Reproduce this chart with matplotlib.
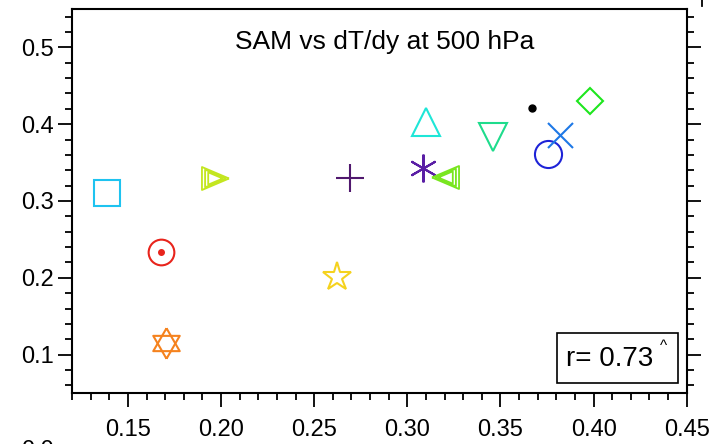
import matplotlib
matplotlib.use("Agg")
import matplotlib.pyplot as plt
from matplotlib.ticker import MultipleLocator, FormatStrFormatter
from matplotlib.patches import Rectangle
from matplotlib.lines import Line2D

plt.rcParams['font.family'] = ['Liberation Sans', 'DejaVu Sans']

# one point per model: dT/dy trend (x) vs SAM trend (y)
dtdy = [0.139, 0.1676, 0.1706, 0.1966, 0.2695, 0.2625, 0.3098, 0.3085,
        0.3201, 0.3461, 0.367, 0.3756, 0.3819, 0.398]
sam = [0.311, 0.234, 0.1156, 0.330, 0.330, 0.2013, 0.403, 0.3434,
       0.3312, 0.383, 0.4213, 0.3607, 0.3862, 0.4308]
colors = ['#1ec3f0', '#e8241c', '#f5821e', '#c3e61e', '#50186e', '#f5d21e',
          '#1ee6d7', '#5a1ea5', '#78e61e', '#1edc8c', '#000000', '#1e23d7',
          '#1e78e6', '#1ee61e']
r_value = 0.73

# marker shapes (custom vertices where matplotlib has nothing close)
hex_up = [(0, 1), (-0.866, -0.5), (0.866, -0.5), (0, 1)]
hex_dn = [(0, -1), (-0.866, 0.5), (0.866, 0.5), (0, -1)]
tri_rt = [(1, 0), (-1, 0.85), (-1, -0.85), (1, 0)]
tri_lt = [(-1, 0), (1, 0.85), (1, -0.85), (-1, 0)]

fig = plt.figure(figsize=(7.28, 4.44), dpi=100)
ax = fig.add_axes([0.0989, 0.1149, 0.8444, 0.8648])

lw = 1.5
kw = dict(ls='none', mfc='none', mew=lw)

def mk(i, marker, size, **extra):
    opts = dict(kw)
    opts.update(extra)
    ax.plot(dtdy[i], sam[i], marker=marker, ms=size, mec=colors[i], **opts)

mk(0, 's', 18.5)
mk(1, 'o', 18.5)
ax.plot(dtdy[1], sam[1], marker='o', ms=4, color=colors[1], ls='none')
mk(2, hex_up, 22)
mk(2, hex_dn, 22)
for s in (19.5, 15, 10.5):
    mk(3, tri_rt, s, mew=1.3)
mk(4, '+', 20)
mk(5, '*', 21)
mk(6, '^', 19.5)
mk(7, (6, 2, 0), 20)
for s in (19.5, 15, 10.5):
    mk(8, tri_lt, s, mew=1.3)
mk(9, 'v', 20)
ax.plot(dtdy[10], sam[10], marker='o', ms=5, color=colors[10], ls='none')
mk(11, 'o', 19.5)
mk(12, 'x', 18)
mk(13, 'D', 13.5)

ax.set_xlim(0.12, 0.45)
ax.set_ylim(0.05, 0.55)
ax.xaxis.set_major_locator(MultipleLocator(0.05))
ax.xaxis.set_minor_locator(MultipleLocator(0.01))
ax.yaxis.set_major_locator(MultipleLocator(0.1))
ax.yaxis.set_minor_locator(MultipleLocator(0.02))
ax.xaxis.set_major_formatter(FormatStrFormatter('%.2f'))
ax.yaxis.set_major_formatter(FormatStrFormatter('%.1f'))

for s in ax.spines.values():
    s.set_linewidth(1.5)
ax.tick_params(which='both', direction='out', width=1.3, top=False,
               right=True, labelright=False)
ax.tick_params(axis='x', which='major', length=10, pad=9, labelsize=17)
ax.tick_params(axis='x', which='minor', length=5)
ax.tick_params(axis='y', which='major', length=10, pad=3, labelsize=17)
ax.tick_params(axis='y', which='minor', length=5)

ax.text(0.509, 0.914, 'SAM vs dT/dy at 500 hPa', transform=ax.transAxes,
        ha='center', va='center', fontsize=19)

ax.add_patch(Rectangle((0.789, 0.026), 0.197, 0.130, transform=ax.transAxes,
                       fill=False, lw=1.2, ec='black'))
ax.text(0.804, 0.088, 'r= %.2f' % r_value, transform=ax.transAxes,
        ha='left', va='center', fontsize=20)
ax.text(0.963, 0.122, '^', transform=ax.transAxes, ha='center',
        va='center', fontsize=11)

# bits of neighbouring panels that show at the edges
fig.text(38 / 728, 4 / 444, '0.0', ha='center', va='top', fontsize=17)
fig.add_artist(Line2D([702 / 728, 702 / 728], [1, 1 - 6 / 444],
                      color='black', lw=1.3))

fig.savefig('out.png', dpi=100)
